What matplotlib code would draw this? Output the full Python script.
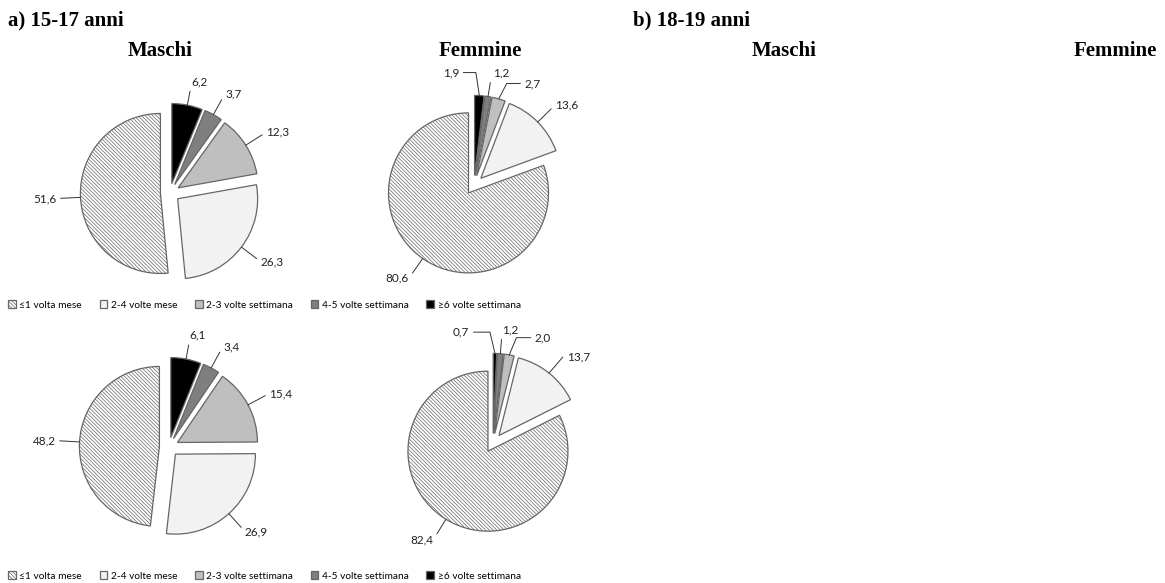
import numpy as np
import matplotlib
matplotlib.use("Agg")
import matplotlib.pyplot as plt

plt.rcParams['font.family'] = ['Lato', 'DejaVu Sans']
plt.rcParams['hatch.color'] = '#9a9a9a'
plt.rcParams['hatch.linewidth'] = 0.5

# categories (legend order)
categorie = ['≤1 volta mese', '2-4 volte mese', '2-3 volte settimana',
             '4-5 volte settimana', '≥6 volte settimana']
colori = ['white', '#f2f2f2', '#bfbfbf', '#7f7f7f', 'black']
tratteggi = ['\\' * 9, None, None, None, None]

# values (%)
maschi_15_17 = [51.6, 26.3, 12.3, 3.7, 6.2]
femmine_15_17 = [80.6, 13.6, 2.7, 1.2, 1.9]
maschi_18_19 = [48.2, 26.9, 15.4, 3.4, 6.1]
femmine_18_19 = [82.4, 13.7, 2.0, 1.2, 0.7]

W, H = 1165, 583
fig = plt.figure(figsize=(W / 100, H / 100), dpi=100)

EXPL = 0.12
HALF = 1.8
R = 80


def spread(angles, sep):
    a = np.array(angles, dtype=float)
    order = np.argsort(a)
    b = a[order].copy()
    for _ in range(200):
        moved = False
        for i in range(1, len(b)):
            d = b[i] - b[i - 1]
            if d < sep:
                push = (sep - d) / 2
                b[i] += push
                b[i - 1] -= push
                moved = True
        if not moved:
            break
    out = np.empty_like(a)
    out[order] = b
    return out


def draw_pie(cx, cy, vals):
    s = 2 * HALF * R
    ax = fig.add_axes([(cx - s / 2) / W, 1 - (cy + s / 2) / H, s / W, s / H])
    wedges, _ = ax.pie(vals, colors=colori, startangle=90, counterclock=True,
                       explode=[EXPL] * len(vals),
                       wedgeprops=dict(edgecolor='#666666', linewidth=0.9))
    for w, h in zip(wedges, tratteggi):
        if h:
            w.set_hatch(h)
            if hasattr(w, 'set_hatchcolor'):
                w.set_hatchcolor('#9a9a9a')
    mids = []
    for w in wedges:
        m = (w.theta1 + w.theta2) / 2
        m = (m + 180) % 360 - 180
        mids.append(m)
    lab = spread(mids, 18)
    for w, v, m, la in zip(wedges, vals, mids, lab):
        mr = np.deg2rad(m)
        lr = np.deg2rad(la)
        ox, oy = EXPL * np.cos(mr), EXPL * np.sin(mr)
        xy = (ox + np.cos(mr), oy + np.sin(mr))
        xt = (ox + 1.3 * np.cos(lr), oy + 1.3 * np.sin(lr))
        c = np.cos(lr)
        ha = 'left' if c > 0.05 else ('right' if c < -0.05 else 'center')
        ax.annotate(f"{v:.1f}".replace('.', ','), xy=xy, xytext=xt,
                    ha=ha, va='center', fontsize=8.5, color='#222222',
                    arrowprops=dict(arrowstyle='-', color='#333333', lw=0.7,
                                    shrinkA=1, shrinkB=0,
                                    connectionstyle=f"angle,angleA=0,angleB={la}"))
    ax.set_xlim(-HALF, HALF)
    ax.set_ylim(-HALF, HALF)
    ax.axis('off')
    return wedges


w1 = draw_pie(170, 193, maschi_15_17)
draw_pie(474, 185, femmine_15_17)
w3 = draw_pie(169, 447, maschi_18_19)
draw_pie(493, 443, femmine_18_19)

for wd, y in [(w1, 305), (w3, 576)]:
    fig.legend(wd, categorie, loc='center left', bbox_to_anchor=(8 / W, 1 - y / H),
               ncol=5, frameon=False, fontsize=7.3, handlelength=0.75,
               handleheight=0.75, handletextpad=0.35, columnspacing=1.75,
               borderaxespad=0, borderpad=0)

tit = dict(fontfamily='Liberation Serif', fontweight='bold', fontsize=15, va='center')
fig.text(8 / W, 1 - 20 / H, 'a) 15-17 anni', ha='left', **tit)
fig.text(160 / W, 1 - 51 / H, 'Maschi', ha='center', **tit)
fig.text(480 / W, 1 - 51 / H, 'Femmine', ha='center', **tit)
fig.text(633 / W, 1 - 20 / H, 'b) 18-19 anni', ha='left', **tit)
fig.text(784 / W, 1 - 51 / H, 'Maschi', ha='center', **tit)
fig.text(1115 / W, 1 - 51 / H, 'Femmine', ha='center', **tit)

fig.savefig('out.png', dpi=100)
